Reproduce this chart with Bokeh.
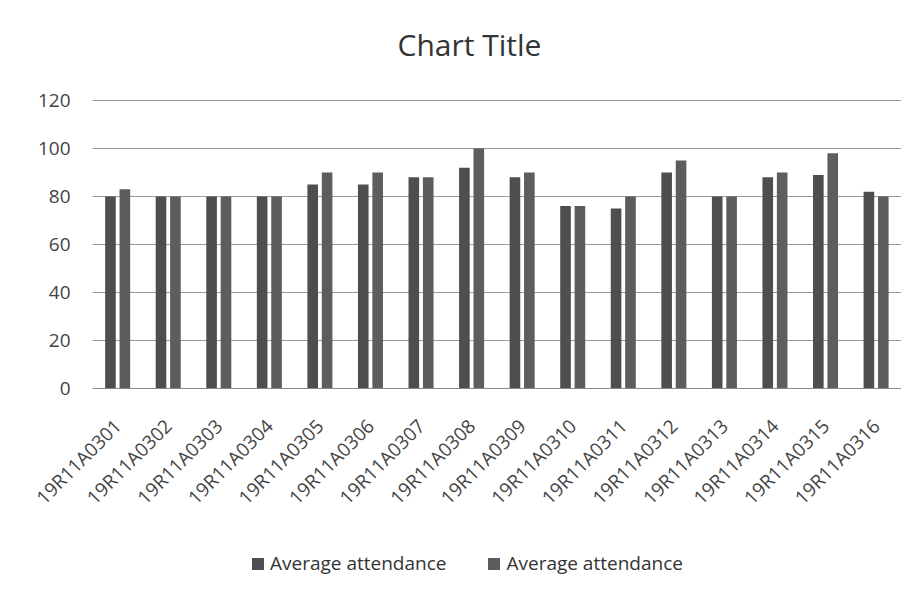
from bokeh.plotting import figure
from bokeh.models import FactorRange, Range1d, FixedTicker, Legend, LegendItem, ColumnDataSource, Label
from bokeh.layouts import column
from bokeh.transform import dodge
from bokeh.embed import file_html
from bokeh.resources import INLINE
import math

students = ["19R11A0301", "19R11A0302", "19R11A0303", "19R11A0304", "19R11A0305",
            "19R11A0306", "19R11A0307", "19R11A0308", "19R11A0309", "19R11A0310",
            "19R11A0311", "19R11A0312", "19R11A0313", "19R11A0314", "19R11A0315",
            "19R11A0316"]
series1 = [80, 80, 80, 80, 85, 85, 88, 92, 88, 76, 75, 90, 80, 88, 89, 82]
series2 = [83, 80, 80, 80, 90, 90, 88, 100, 90, 76, 80, 95, 80, 90, 98, 80]
series_names = ["Average attendance", "Average attendance"]
y_ticks = [0, 20, 40, 60, 80, 100, 120]
chart_title = "Chart Title"

FONT = "Open Sans"
C1 = "#4e4e4e"
C2 = "#5d5d5d"

# title strip (frame aligned with the chart frame by the column layout)
tt = figure(width=901, height=88, output_backend="svg", toolbar_location=None,
            min_border=0, x_range=Range1d(0, 809), y_range=Range1d(0, 88),
            x_axis_location=None, y_axis_location=None)
tt.grid.visible = False
tt.outline_line_color = None
tt.border_fill_color = "white"
tt.add_layout(Label(x=377, y=44, text=chart_title, text_align="center", text_baseline="middle",
                    text_font=FONT, text_font_size="30px", text_color="#333333"))

src = ColumnDataSource(dict(cat=students, s1=series1, s2=series2))

p = figure(x_range=FactorRange(*students, range_padding=0), y_range=Range1d(0, 120.42),
           frame_width=809, frame_height=289, output_backend="svg", toolbar_location=None,
           min_border_left=92, min_border_right=0, min_border_top=11, min_border_bottom=150)
p.outline_line_color = None
p.background_fill_color = "white"
p.border_fill_color = "white"

p.vbar(x=dodge("cat", -0.145, range=p.x_range), top="s1", width=0.21, source=src,
       fill_color=C1, line_color=None)
p.vbar(x=dodge("cat", 0.14, range=p.x_range), top="s2", width=0.21, source=src,
       fill_color=C2, line_color=None)

p.yaxis.ticker = FixedTicker(ticks=y_ticks)
p.yaxis.axis_line_color = None
p.yaxis.major_tick_line_color = None
p.yaxis.minor_tick_line_color = None
p.yaxis.major_label_text_font = FONT
p.yaxis.major_label_text_font_size = "19px"
p.yaxis.major_label_text_color = "#444444"
p.yaxis.major_label_standoff = 16

p.xaxis.axis_line_color = "#8a8a8a"
p.xaxis.major_tick_line_color = None
p.xaxis.minor_tick_line_color = None
p.xaxis.major_tick_out = 0
p.xaxis.major_label_orientation = math.pi / 4
p.xaxis.major_label_text_font = FONT
p.xaxis.major_label_text_font_size = "19px"
p.xaxis.major_label_text_color = "#444444"
p.xaxis.major_label_standoff = 34

p.xgrid.grid_line_color = None
p.ygrid.grid_line_color = "#9a9a9a"
p.ygrid.grid_line_width = 1

# legend strip (a separate, axis-less figure below the chart)
lg = figure(width=901, height=50, output_backend="svg", toolbar_location=None,
            min_border=0, x_range=Range1d(0, 1), y_range=Range1d(0, 1),
            x_axis_location=None, y_axis_location=None)
lg.grid.visible = False
lg.outline_line_color = None
lg.border_fill_color = "white"
proxy = ColumnDataSource(dict(x=[float("nan")], top=[float("nan")]))
l1 = lg.vbar(x="x", top="top", width=0.1, source=proxy, fill_color=C1, line_color=None)
l2 = lg.vbar(x="x", top="top", width=0.1, source=proxy, fill_color=C2, line_color=None)
legend = Legend(items=[LegendItem(label=series_names[0], renderers=[l1]),
                       LegendItem(label=series_names[1], renderers=[l2])],
                orientation="horizontal", location=(158, 12),
                label_text_font=FONT, label_text_font_size="19px", label_text_color="#333333",
                glyph_width=15, glyph_height=15, spacing=40, label_standoff=5,
                border_line_color=None, background_fill_alpha=0, padding=2, margin=0)
lg.add_layout(legend)

open("out.html", "w").write(file_html(column(tt, p, lg, spacing=0), INLINE))
